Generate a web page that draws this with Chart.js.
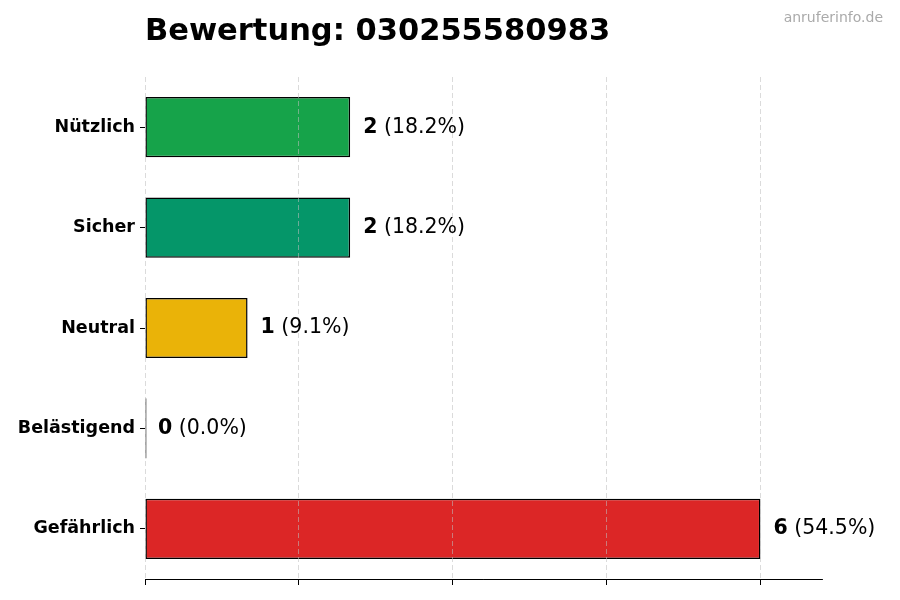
<!DOCTYPE html>
<html>
<head>
<meta charset="utf-8">
<script src="https://cdn.jsdelivr.net/npm/chart.js@4/dist/chart.umd.min.js"></script>
<style>
  html, body { margin: 0; padding: 0; background: #fff; }
</style>
</head>
<body>
<canvas id="ratingChart" width="900" height="600"></canvas>
<script>
const categories = ["Nützlich", "Sicher", "Neutral", "Belästigend", "Gefährlich"];
const counts = [2, 2, 1, 0, 6];
const barColors = ["#16a34a", "#059669", "#eab308", "#f97316", "#dc2626"];
const xTicks = [0, 1.5, 3, 4.5, 6];

const titleText = "Bewertung: 030255580983";
const watermark = "anruferinfo.de";
const total = counts.reduce((a, b) => a + b, 0);

// title, watermark and the "n (p%)" labels next to each bar
const labelPlugin = {
  id: "labels",
  afterDraw(chart) {
    const ctx = chart.ctx;
    ctx.save();
    ctx.textBaseline = "alphabetic";
    ctx.fillStyle = "#000";
    ctx.font = "bold 30.5px 'DejaVu Sans'";
    ctx.textAlign = "left";
    ctx.fillText(titleText, 145, 40);

    ctx.fillStyle = "#aaaaaa";
    ctx.font = "14px 'DejaVu Sans'";
    ctx.textAlign = "right";
    ctx.fillText(watermark, 883, 22);

    const meta = chart.getDatasetMeta(0);
    ctx.textAlign = "left";
    ctx.textBaseline = "middle";
    meta.data.forEach((bar, i) => {
      const x = chart.scales.x.getPixelForValue(counts[i]) + 13;
      const y = bar.y;
      const num = String(counts[i]);
      const pct = " (" + (counts[i] / total * 100).toFixed(1) + "%)";
      ctx.fillStyle = "#000";
      ctx.font = "bold 20.5px 'DejaVu Sans'";
      ctx.fillText(num, x, y);
      const w = ctx.measureText(num).width;
      ctx.font = "20.5px 'DejaVu Sans'";
      ctx.fillText(pct, x + w, y);
    });
    ctx.restore();
  }
};

const ctx = document.getElementById("ratingChart").getContext("2d");
const ratingChart = new Chart(ctx, {
  type: "bar",
  data: {
    labels: categories,
    datasets: [{
      data: counts,
      backgroundColor: barColors,
      borderColor: "#000",
      borderWidth: 1.5,
      borderSkipped: false,
      minBarLength: 1.5,
      categoryPercentage: 1,
      barPercentage: 0.6
    }]
  },
  options: {
    indexAxis: "y",
    responsive: false,
    animation: false,
    devicePixelRatio: 1,
    layout: { padding: { left: 0, right: 78, top: 77, bottom: 0 } },
    plugins: {
      legend: { display: false },
      tooltip: { enabled: false }
    },
    scales: {
      x: {
        min: 0,
        max: 6.6,
        afterBuildTicks: (scale) => { scale.ticks = xTicks.map(v => ({ value: v })); },
        ticks: { display: false },
        border: { display: true, color: "#000", width: 1, dash: [5, 3], z: 1 },
        grid: {
          z: 1,
          color: "rgba(190,190,190,0.7)",
          lineWidth: 0.8,
          tickLength: 6,
          tickColor: "#000",
          tickWidth: 1,
          tickBorderDash: [1, 0]
        },
        afterFit: (scale) => { scale.height = 21; }
      },
      y: {
        offset: true,
        border: { display: false },
        grid: {
          drawOnChartArea: false,
          offset: false,
          tickLength: 5,
          tickColor: "#000",
          tickWidth: 1
        },
        ticks: {
          color: "#000",
          padding: 5,
          font: { family: "'DejaVu Sans'", size: 17.5, weight: "bold" }
        },
        afterFit: (scale) => { scale.width = 145; }
      }
    }
  },
  plugins: [labelPlugin]
});
</script>
</body>
</html>
